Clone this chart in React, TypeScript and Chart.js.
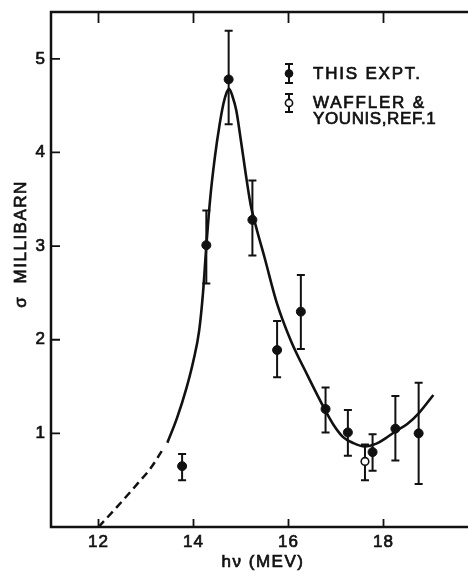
import { useEffect, useRef } from "react";
import { Chart, registerables } from "chart.js";

Chart.register(...registerables);

// Measured points: this experiment
const expX = [13.76, 14.27, 14.74, 15.24, 15.76, 16.26, 16.78, 17.25, 17.77, 18.25, 18.74];
const expY = [0.65, 3.01, 4.78, 3.28, 1.89, 2.3, 1.26, 1.01, 0.8, 1.05, 1.0];
const expLo = [0.5, 2.6, 4.3, 2.9, 1.6, 1.9, 1.01, 0.76, 0.6, 0.71, 0.46];
const expHi = [0.78, 3.38, 5.3, 3.7, 2.2, 2.69, 1.49, 1.25, 0.99, 1.4, 1.54];

// Waffler & Younis point
const refX = [17.61];
const refY = [0.7];
const refLo = [0.5];
const refHi = [0.88];

// Fitted curve (solid part)
const fitSolidX = [13.45, 13.65, 13.85, 14.0, 14.12, 14.2, 14.27, 14.35, 14.45, 14.55, 14.63, 14.69, 14.75, 14.82, 14.9, 15.0, 15.1, 15.2, 15.32, 15.5, 15.75, 16.05, 16.4, 16.75, 16.95, 17.15, 17.35, 17.6, 17.85, 18.05, 18.25, 18.5, 18.75, 19.05];
const fitSolidY = [0.9, 1.16, 1.48, 1.78, 2.1, 2.5, 3.0, 3.5, 3.95, 4.3, 4.52, 4.63, 4.68, 4.6, 4.45, 4.12, 3.77, 3.45, 3.2, 2.87, 2.4, 1.99, 1.62, 1.27, 1.09, 0.96, 0.9, 0.86, 0.89, 0.95, 1.02, 1.1, 1.22, 1.41];

// Fitted curve (dashed extrapolation)
const fitDashX = [12.0, 12.4, 12.8, 13.1, 13.38];
const fitDashY = [0.0, 0.22, 0.45, 0.63, 0.85];

const xTicks = [12, 14, 16, 18];
const yTicks = [1, 2, 3, 4, 5];
const xTickLabels = ["12", "14", "16", "18"];
const yTickLabels = ["1", "2", "3", "4", "5"];
const xTitle = "hν (MEV)";
const yTitle = "σ  MILLIBARN";
const legendExp = ["THIS EXPT."];
const legendRef = ["WAFFLER &", "YOUNIS,REF.1"];

const INK = "#111";
const FONT = '17px "Liberation Sans", Arial, sans-serif';

function heavyText(ctx: CanvasRenderingContext2D, t: string, x: number, y: number) {
  ctx.fillText(t, x, y);
  ctx.strokeText(t, x, y);
}

function drawErrBars(ctx: CanvasRenderingContext2D, chart: any, xs: number[], lo: number[], hi: number[]) {
  const xs_ = chart.scales.x;
  const ys_ = chart.scales.y;
  ctx.lineWidth = 2;
  ctx.strokeStyle = INK;
  for (let i = 0; i < xs.length; i++) {
    const px = xs_.getPixelForValue(xs[i]);
    const p1 = ys_.getPixelForValue(lo[i]);
    const p2 = ys_.getPixelForValue(hi[i]);
    ctx.beginPath();
    ctx.moveTo(px, p1);
    ctx.lineTo(px, p2);
    ctx.moveTo(px - 4, p1);
    ctx.lineTo(px + 4, p1);
    ctx.moveTo(px - 4, p2);
    ctx.lineTo(px + 4, p2);
    ctx.stroke();
  }
}

const errorBarPlugin = {
  id: "errorBars",
  beforeDatasetsDraw(chart: any) {
    const ctx = chart.ctx;
    ctx.save();
    drawErrBars(ctx, chart, expX, expLo, expHi);
    drawErrBars(ctx, chart, refX, refLo, refHi);
    ctx.restore();
  },
};

const framePlugin = {
  id: "frame",
  afterDraw(chart: any) {
    const ctx = chart.ctx as CanvasRenderingContext2D;
    const { left, right, top, bottom } = chart.chartArea;
    const sx = chart.scales.x;
    const sy = chart.scales.y;
    ctx.save();
    ctx.strokeStyle = INK;
    ctx.lineWidth = 2.5;
    ctx.beginPath();
    ctx.moveTo(right + 40, top);
    ctx.lineTo(left, top);
    ctx.lineTo(left, bottom);
    ctx.lineTo(right + 40, bottom);
    ctx.stroke();

    ctx.lineWidth = 1.8;
    ctx.beginPath();
    xTicks.forEach((v) => {
      const px = sx.getPixelForValue(v);
      ctx.moveTo(px, bottom);
      ctx.lineTo(px, bottom - 8);
      ctx.moveTo(px, top);
      ctx.lineTo(px, top + 11);
    });
    yTicks.forEach((v) => {
      const py = sy.getPixelForValue(v);
      ctx.moveTo(left, py);
      ctx.lineTo(left + 9, py);
    });
    ctx.stroke();

    ctx.fillStyle = INK;
    ctx.lineWidth = 0.7;
    ctx.font = FONT;
    (ctx as any).letterSpacing = "1px";
    ctx.textBaseline = "middle";
    ctx.textAlign = "center";
    xTicks.forEach((v, i) => {
      heavyText(ctx, xTickLabels[i], sx.getPixelForValue(v), bottom + 15);
    });
    ctx.textAlign = "right";
    yTicks.forEach((v, i) => {
      heavyText(ctx, yTickLabels[i], left - 5, sy.getPixelForValue(v));
    });

    // axis titles
    (ctx as any).letterSpacing = "1.5px";
    ctx.textAlign = "center";
    heavyText(ctx, xTitle, left + 212, bottom + 35);
    ctx.save();
    ctx.translate(21.5, 244);
    ctx.rotate(-Math.PI / 2);
    heavyText(ctx, yTitle, 0, 0);
    ctx.restore();

    // legend
    const lx = 289;
    ctx.lineWidth = 2;
    ctx.beginPath();
    ctx.moveTo(lx, 64);
    ctx.lineTo(lx, 83);
    ctx.moveTo(lx - 4, 64);
    ctx.lineTo(lx + 4, 64);
    ctx.moveTo(lx - 4, 83);
    ctx.lineTo(lx + 4, 83);
    ctx.stroke();
    ctx.beginPath();
    ctx.arc(lx, 73.5, 4.3, 0, Math.PI * 2);
    ctx.fill();
    ctx.beginPath();
    ctx.moveTo(lx, 94);
    ctx.lineTo(lx, 112);
    ctx.moveTo(lx - 4, 94);
    ctx.lineTo(lx + 4, 94);
    ctx.moveTo(lx - 4, 112);
    ctx.lineTo(lx + 4, 112);
    ctx.stroke();
    ctx.beginPath();
    ctx.arc(lx, 103, 3.6, 0, Math.PI * 2);
    ctx.fillStyle = "#fff";
    ctx.fill();
    ctx.lineWidth = 1.6;
    ctx.stroke();

    ctx.fillStyle = INK;
    ctx.lineWidth = 0.7;
    ctx.textAlign = "left";
    (ctx as any).letterSpacing = "1.8px";
    heavyText(ctx, legendExp[0], 313, 74);
    heavyText(ctx, legendRef[0], 313, 103);
    (ctx as any).letterSpacing = "0.6px";
    heavyText(ctx, legendRef[1], 313, 119);
    ctx.restore();
  },
};

export default function App() {
  const ref = useRef<HTMLCanvasElement | null>(null);
  useEffect(() => {
    if (!ref.current) return;
    const chart = new Chart(ref.current, {
      type: "scatter",
      data: {
        datasets: [
          {
            label: "fit",
            data: fitSolidX.map((x, i) => ({ x, y: fitSolidY[i] })),
            showLine: true,
            borderColor: INK,
            borderWidth: 2.6,
            pointRadius: 0,
            cubicInterpolationMode: "monotone",
            fill: false,
          },
          {
            label: "fit-dash",
            data: fitDashX.map((x, i) => ({ x, y: fitDashY[i] })),
            showLine: true,
            borderColor: INK,
            borderWidth: 2.5,
            borderDash: [8, 5],
            pointRadius: 0,
            cubicInterpolationMode: "monotone",
            fill: false,
          },
          {
            label: "THIS EXPT.",
            data: expX.map((x, i) => ({ x, y: expY[i] })),
            pointRadius: 4.5,
            pointBackgroundColor: INK,
            pointBorderColor: INK,
            pointBorderWidth: 1,
            showLine: false,
          },
          {
            label: "WAFFLER & YOUNIS, REF. 1",
            data: refX.map((x, i) => ({ x, y: refY[i] })),
            pointRadius: 3.8,
            pointBackgroundColor: "#fff",
            pointBorderColor: INK,
            pointBorderWidth: 1.6,
            showLine: false,
          },
        ],
      },
      options: {
        responsive: false,
        maintainAspectRatio: false,
        animation: false,
        layout: { padding: { left: 51, top: 12, right: 21.5, bottom: 44 } },
        scales: {
          x: { type: "linear", min: 11, max: 20, display: false },
          y: { type: "linear", min: 0, max: 5.5, display: false },
        },
        plugins: { legend: { display: false }, tooltip: { enabled: false } },
      },
      plugins: [errorBarPlugin, framePlugin],
    });
    return () => chart.destroy();
  }, []);
  return (
    <div style={{ position: "absolute", left: 0, top: 0, width: 468, height: 571, overflow: "hidden", background: "#fff" }}>
      <canvas ref={ref} width={500} height={571} style={{ display: "block" }} />
    </div>
  );
}
